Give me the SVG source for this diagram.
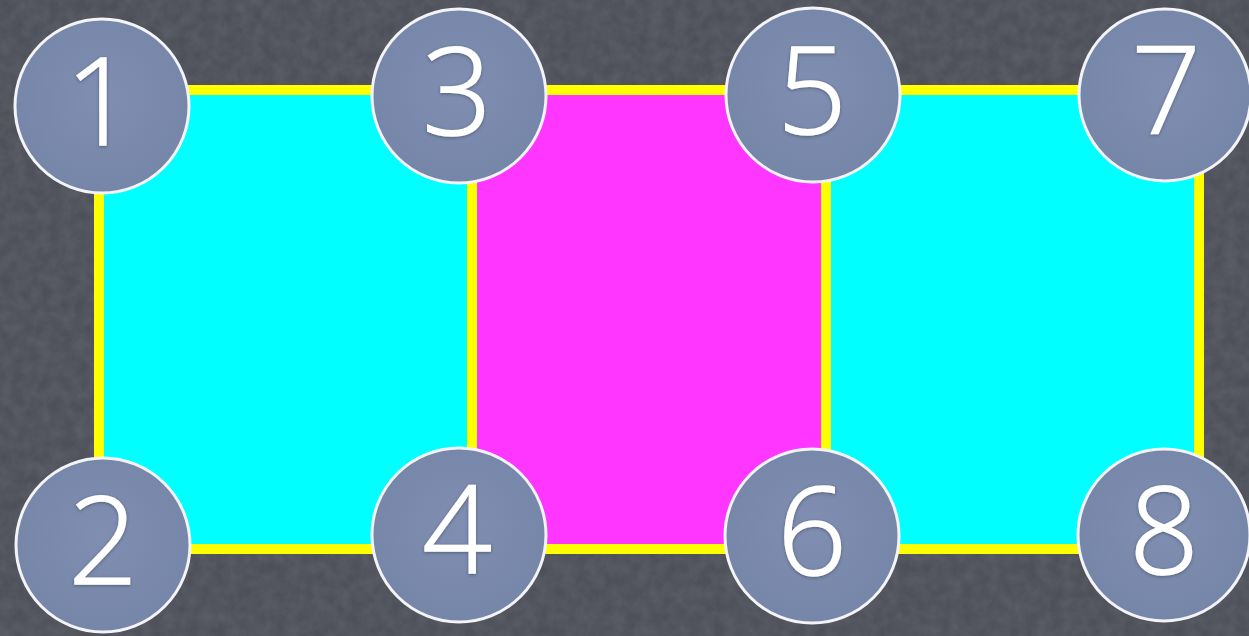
<svg xmlns="http://www.w3.org/2000/svg" width="1249" height="636" viewBox="0 0 1249 636">
  <defs>
    <filter id="noise" x="0" y="0" width="100%" height="100%">
      <feTurbulence type="fractalNoise" baseFrequency="0.08" numOctaves="3" seed="4"/>
      <feColorMatrix type="matrix" values="0 0 0 0 0.33  0 0 0 0 0.34  0 0 0 0 0.38  0 0 0 0.5 -0.1"/>
    </filter>
    <filter id="shadow" x="-20%" y="-20%" width="140%" height="140%">
      <feDropShadow dx="0" dy="1" stdDeviation="1.5" flood-color="#2a2f3a" flood-opacity="0.5"/>
    </filter>
    <radialGradient id="badge" cx="50%" cy="45%" r="55%">
      <stop offset="0" stop-color="#7f8eb1"/>
      <stop offset="1" stop-color="#7686a8"/>
    </radialGradient>
  </defs>
  <style>
    .bg { fill: #4d5059; }
    .cell { stroke: #ffff00; stroke-width: 10; }
    .cyan { fill: #00ffff; }
    .magenta { fill: #ff36ff; }
    .badge { fill: url(#badge); stroke: #f4f4f8; stroke-width: 3; }
    .num { font-family: "Open Sans", "DejaVu Sans", sans-serif; font-weight: 300; font-size: 122px; fill: #ffffff; stroke: #ffffff; stroke-width: 1.5; text-anchor: middle; filter: url(#shadow); }
  </style>
  <rect class="bg" x="0" y="0" width="1249" height="636"/>
  <rect x="0" y="0" width="1249" height="636" filter="url(#noise)" opacity="0.5"/>

  <g id="cells">
    <rect id="cell-left" class="cell cyan" x="99" y="90" width="373" height="459"/>
    <rect id="cell-middle" class="cell magenta" x="472" y="90" width="354" height="459"/>
    <rect id="cell-right" class="cell cyan" x="826" y="90" width="373" height="459"/>
  </g>

  <g id="node-1"><circle class="badge" cx="102" cy="106" r="87"/><text class="num" x="100" y="145">1</text></g>
  <g id="node-2"><circle class="badge" cx="103" cy="545" r="87"/><text class="num" x="103" y="584">2</text></g>
  <g id="node-3"><circle class="badge" cx="459" cy="96" r="87"/><text class="num" x="457" y="135">3</text></g>
  <g id="node-4"><circle class="badge" cx="459" cy="535" r="87"/><text class="num" x="457" y="573">4</text></g>
  <g id="node-5"><circle class="badge" cx="813" cy="95" r="87"/><text class="num" x="812" y="134">5</text></g>
  <g id="node-6"><circle class="badge" cx="812" cy="536" r="87"/><text class="num" x="812" y="575">6</text></g>
  <g id="node-7"><circle class="badge" cx="1165" cy="95" r="86"/><text class="num" x="1166" y="134">7</text></g>
  <g id="node-8"><circle class="badge" cx="1164" cy="535" r="86"/><text class="num" x="1164" y="574">8</text></g>
</svg>
